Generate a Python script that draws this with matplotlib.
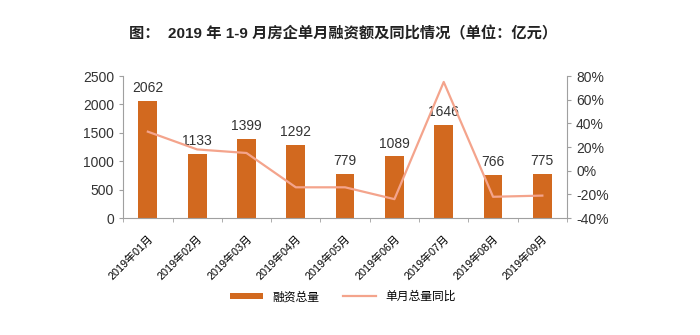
import matplotlib.pyplot as plt
import numpy as np
from matplotlib.ticker import FuncFormatter, MultipleLocator

plt.rcParams['font.family'] = ['Liberation Sans', 'Noto Sans CJK SC', 'DejaVu Sans']

months = ["2019年01月", "2019年02月", "2019年03月", "2019年04月", "2019年05月",
          "2019年06月", "2019年07月", "2019年08月", "2019年09月"]
financing = [2062, 1133, 1399, 1292, 779, 1089, 1646, 766, 775]
yoy = [33, 18, 15, -14, -14, -24, 75, -22, -21]   # percent

bar_color = "#D2691F"
line_color = "#F4A48C"
axis_color = "#A0A0A0"

fig = plt.figure(figsize=(7, 3.35), dpi=100)
ax = fig.add_axes([0.176, 0.349, 0.634, 0.424])
x = np.arange(len(months))

ax.bar(x, financing, width=0.38, color=bar_color, label="融资总量", zorder=2)
for xi, v in zip(x, financing):
    ax.text(xi, v + 100, str(v), ha='center', va='bottom', fontsize=10, color="#333333")

ax.set_xlim(-0.5, len(months) - 0.5)
ax.set_ylim(0, 2500)
ax.yaxis.set_major_locator(MultipleLocator(500))
ax.set_xticks(x)
ax.set_xticklabels(months, rotation=45, ha='right', rotation_mode='anchor', fontsize=7.8)
ax.tick_params(axis='x', length=0, pad=11)
ax.set_xticks(np.arange(-0.5, len(months)), minor=True)
ax.tick_params(axis='x', which='minor', length=3, color=axis_color, direction='out')
ax.tick_params(axis='y', labelsize=10, length=3, color=axis_color, labelcolor="#333333")
for s in ['top', 'right']:
    ax.spines[s].set_visible(False)
for s in ['left', 'bottom']:
    ax.spines[s].set_color(axis_color)

ax2 = ax.twinx()
ax2.plot(x, yoy, color=line_color, linewidth=1.6, label="单月总量同比", zorder=3)
ax2.set_ylim(-40, 80)
ax2.yaxis.set_major_locator(MultipleLocator(20))
ax2.yaxis.set_major_formatter(FuncFormatter(lambda v, p: "%d%%" % v))
ax2.tick_params(axis='y', labelsize=10, length=3, color=axis_color, labelcolor="#333333")
for s in ['top', 'left', 'bottom']:
    ax2.spines[s].set_visible(False)
ax2.spines['right'].set_color(axis_color)

fig.text(0.49, 0.9, "图：  2019 年 1-9 月房企单月融资额及同比情况（单位：亿元）",
         ha='center', va='center', fontsize=11, fontweight='bold', color="#222222")

h1, l1 = ax.get_legend_handles_labels()
h2, l2 = ax2.get_legend_handles_labels()
fig.legend(h1 + h2, l1 + l2, loc='center', bbox_to_anchor=(0.49, 0.113), ncol=2,
           frameon=False, fontsize=8.5, handlelength=2.8, handleheight=0.5, columnspacing=2)

fig.savefig("out.png", dpi=100)
